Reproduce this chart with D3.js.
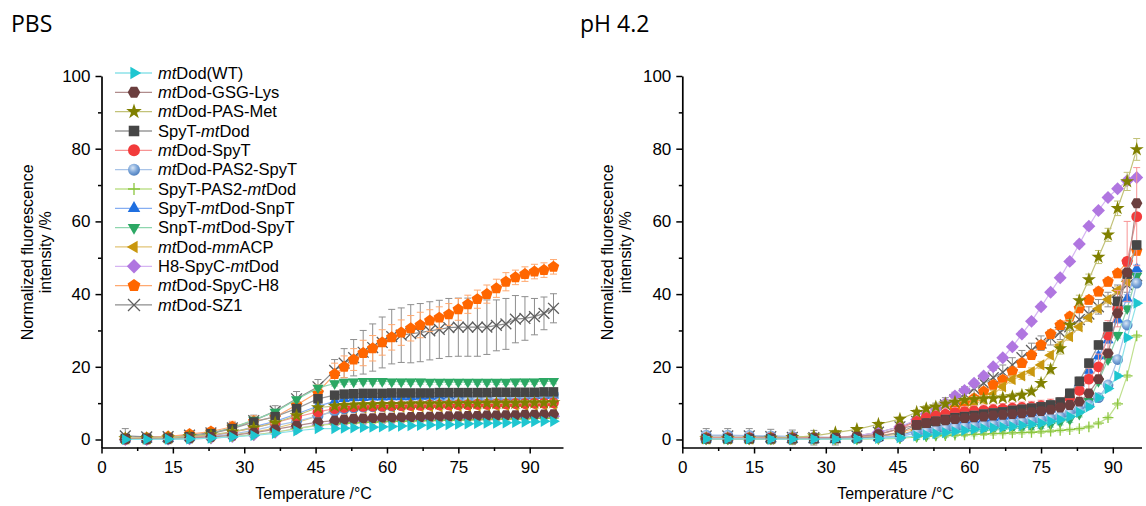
<!DOCTYPE html>
<html>
<head>
<meta charset="utf-8">
<script src="https://cdn.jsdelivr.net/npm/d3@7"></script>
<style>
  body { margin: 0; background: #fff; }
  text { font-family: "Liberation Sans", Arial, sans-serif; fill: #000; }
</style>
</head>
<body>
<div id="chart"></div>
<script>
// temperatures (°C) of the melt scan
const temps = [5, 9.5, 14, 18.5, 23, 27.5, 32, 36.5, 41, 45.5,
  49, 51, 53, 55, 57, 59, 61, 63, 65, 67, 69, 71, 73, 75, 77, 79, 81, 83, 85, 87, 89, 91, 93, 95];

const seriesNames = ['mtDod(WT)', 'mtDod-GSG-Lys', 'mtDod-PAS-Met', 'SpyT-mtDod', 'mtDod-SpyT',
  'mtDod-PAS2-SpyT', 'SpyT-PAS2-mtDod', 'SpyT-mtDod-SnpT', 'SnpT-mtDod-SpyT', 'mtDod-mmACP',
  'H8-SpyC-mtDod', 'mtDod-SpyC-H8', 'mtDod-SZ1'];

// PBS panel
const pbsWT = [0, 0, 0.1, 0.2, 0.4, 0.7, 1.1, 1.7, 2.4, 3.0,
  3.0, 3.1, 3.2, 3.3, 3.4, 3.5, 3.6, 3.7, 3.8, 3.9, 4.0, 4.0, 4.1, 4.2, 4.3, 4.4, 4.5, 4.5, 4.6, 4.7, 4.8, 4.9, 5.0, 5.0];
const pbsGSG = [0.1, 0.1, 0.2, 0.4, 0.7, 1.1, 1.9, 2.8, 3.8, 4.8,
  5.2, 5.5, 5.7, 5.8, 5.9, 6.0, 6.0, 6.1, 6.2, 6.2, 6.3, 6.3, 6.4, 6.4, 6.5, 6.5, 6.6, 6.6, 6.7, 6.7, 6.8, 6.8, 6.9, 7.0];
const pbsPASMet = [0.3, 0.3, 0.5, 0.8, 1.3, 2.1, 3.2, 4.6, 6.6, 8.8,
  9.2, 9.4, 9.5, 9.6, 9.6, 9.7, 9.7, 9.7, 9.8, 9.8, 9.8, 9.8, 9.9, 9.9, 9.9, 9.9, 10.0, 10.0, 10.0, 10.0, 10.1, 10.1, 10.1, 10.2];
const pbsSpyTDod = [0.3, 0.3, 0.4, 0.8, 1.6, 3.0, 4.8, 6.3, 8.5, 11.2,
  12.2, 12.5, 12.6, 12.7, 12.7, 12.7, 12.8, 12.8, 12.8, 12.8, 12.8, 12.9, 12.9, 12.9, 12.9, 12.9, 12.9, 13.0, 13.0, 13.0, 13.0, 13.0, 13.1, 13.1];
const pbsDodSpyT = [0.1, 0.1, 0.3, 0.6, 1.1, 2.0, 3.2, 4.6, 6.2, 7.6,
  8.5, 8.8, 9.0, 9.1, 9.2, 9.2, 9.3, 9.3, 9.4, 9.4, 9.5, 9.5, 9.5, 9.6, 9.6, 9.7, 9.7, 9.8, 9.8, 9.9, 9.9, 10.0, 10.0, 10.1];
const pbsPAS2SpyT = [0, 0, 0.1, 0.3, 0.8, 1.5, 2.5, 3.8, 5.0, 6.5,
  7.8, 8.4, 8.7, 8.9, 9.0, 9.1, 9.2, 9.3, 9.5, 9.6, 9.8, 10.0, 10.2, 10.4, 10.6, 10.8, 11.0, 11.2, 11.4, 11.6, 11.8, 12.0, 12.2, 12.4];
const pbsSpyTPAS2 = [0, 0, 0.1, 0.2, 0.4, 0.8, 1.3, 2.0, 3.0, 3.9,
  4.3, 4.5, 4.6, 4.7, 4.8, 4.9, 5.0, 5.0, 5.1, 5.2, 5.2, 5.3, 5.3, 5.4, 5.4, 5.5, 5.5, 5.6, 5.6, 5.7, 5.7, 5.8, 5.8, 5.9];
const pbsSnpT = [0.1, 0.1, 0.2, 0.5, 1.0, 2.0, 3.5, 5.0, 7.0, 9.2,
  10.5, 11.2, 11.4, 11.5, 11.6, 11.6, 11.7, 11.7, 11.7, 11.8, 11.8, 11.8, 11.8, 11.9, 11.9, 11.9, 11.9, 12.0, 12.0, 12.0, 12.0, 12.1, 12.1, 12.2];
const pbsSnpTSpyT = [0.3, 0.3, 0.4, 0.9, 1.6, 3.2, 5.4, 7.6, 11.0, 14.2,
  15.4, 15.8, 15.9, 16.0, 16.0, 16.0, 15.9, 15.9, 15.9, 15.9, 15.8, 15.8, 15.8, 15.8, 15.8, 15.8, 15.8, 15.8, 15.8, 15.9, 15.9, 15.9, 16.0, 16.0];
const pbsMmACP = [0.1, 0.1, 0.2, 0.4, 0.8, 1.3, 2.1, 3.1, 4.6, 6.5,
  7.8, 8.3, 8.5, 8.6, 8.7, 8.8, 8.8, 8.9, 8.9, 9.0, 9.0, 9.0, 9.1, 9.1, 9.1, 9.2, 9.2, 9.2, 9.3, 9.3, 9.3, 9.4, 9.4, 9.5];
const pbsH8 = [0, 0, 0.1, 0.2, 0.4, 0.8, 1.3, 2.0, 3.0, 4.0,
  4.5, 4.8, 5.0, 5.1, 5.2, 5.3, 5.4, 5.5, 5.5, 5.6, 5.7, 5.7, 5.8, 5.8, 5.9, 5.9, 6.0, 6.0, 6.1, 6.1, 6.2, 6.3, 6.3, 6.4];
const pbsSpyCH8 = [0.3, 0.5, 0.8, 1.5, 2.2, 3.5, 5.0, 6.2, 9.5, 13.0,
  18.0, 20.0, 22.0, 23.8, 25.1, 26.7, 28.1, 29.4, 30.6, 31.5, 32.7, 33.5, 34.4, 35.8, 37.2, 38.6, 40.0, 41.6, 43.4, 44.6, 45.5, 46.2, 46.6, 47.5];
const pbsSZ1 = [1.0, 0.7, 0.8, 1.2, 1.8, 3.2, 5.2, 7.8, 11.2, 14.5,
  19.0, 21.0, 22.5, 24.0, 25.3, 26.7, 28.3, 28.7, 29.1, 29.4, 29.9, 30.3, 30.8, 30.9, 30.9, 30.9, 30.9, 31.4, 31.8, 33.1, 33.3, 33.8, 34.7, 36.1];
const pbsSpyCH8Err = [0.5, 0.5, 0.5, 0.8, 1.0, 1.5, 1.5, 1.0, 1.5, 2.0,
  3.0, 3.0, 3.0, 3.5, 3.5, 3.5, 3.5, 3.5, 3.5, 3.5, 3.0, 3.0, 3.0, 3.0, 2.5, 2.5, 2.5, 2.5, 2.5, 2.0, 2.0, 2.0, 2.0, 2.0];
const pbsSZ1Err = [2.0, 1.0, 0.5, 0.8, 1.0, 1.5, 1.5, 1.5, 2.0, 2.0,
  3.0, 4.0, 5.0, 6.0, 6.5, 7.0, 7.5, 7.5, 8.0, 8.0, 8.0, 8.0, 8.0, 8.0, 8.0, 8.0, 7.5, 7.0, 7.0, 6.5, 6.0, 5.0, 4.5, 4.0];
const pbsErr = [0.3, 0.4, 0.6, 0.8, 0.6, 0.6, 0.4, 0.6, 0.7, 0.5, 0.4, pbsSpyCH8Err, pbsSZ1Err];

// pH 4.2 panel
const phWT = [0.2, 0.2, 0.2, 0.1, 0.1, 0.1, 0.1, 0.2, 0.3, 0.5,
  1.0, 1.3, 1.6, 1.9, 2.2, 2.5, 2.8, 3.0, 3.2, 3.4, 3.6, 3.9, 4.2, 4.5, 5.0, 5.5, 6.3, 7.5, 9.0, 11.5, 14.0, 17.5, 28.0, 37.5];
const phGSG = [0.3, 0.3, 0.3, 0.3, 0.3, 0.4, 0.5, 0.8, 1.5, 3.0,
  4.0, 4.5, 5.0, 5.3, 5.6, 5.9, 6.1, 6.3, 6.6, 6.8, 7.0, 7.2, 7.5, 7.8, 8.2, 8.8, 9.5, 10.4, 12.7, 16.6, 23.7, 34.7, 46.0, 65.0];
const phPASMet = [0.3, 0.3, 0.3, 0.4, 0.6, 1.0, 1.9, 2.8, 4.2, 5.6,
  7.5, 8.5, 9.0, 9.8, 10.3, 10.8, 11.0, 11.2, 11.3, 11.5, 11.8, 12.2, 13.2, 15.5, 19.3, 25.0, 31.5, 38.2, 44.0, 50.2, 56.3, 63.6, 71.0, 79.8];
const phSpyTDod = [0.2, 0.2, 0.2, 0.2, 0.2, 0.2, 0.3, 0.4, 0.8, 2.0,
  4.0, 4.5, 5.0, 5.5, 6.0, 6.3, 6.6, 7.0, 7.3, 7.6, 8.0, 8.3, 8.6, 9.0, 9.5, 10.3, 12.7, 16.0, 21.0, 26.0, 31.0, 38.0, 45.5, 53.5];
const phDodSpyT = [0.5, 0.5, 0.5, 0.5, 0.5, 0.5, 0.6, 0.8, 1.3, 3.0,
  5.0, 6.0, 6.5, 7.0, 7.3, 7.6, 7.8, 8.0, 8.2, 8.4, 8.6, 8.8, 9.0, 9.3, 9.6, 10.0, 11.5, 13.5, 16.6, 20.0, 28.7, 36.0, 49.0, 61.3];
const phPAS2SpyT = [1.2, 1.2, 1.1, 1.0, 0.9, 0.7, 0.5, 0.5, 0.6, 0.8,
  1.8, 2.2, 2.6, 3.0, 3.3, 3.5, 3.7, 3.9, 4.1, 4.3, 4.6, 4.9, 5.2, 5.5, 5.8, 6.3, 7.2, 8.2, 9.5, 11.5, 15.0, 22.0, 31.5, 43.0];
const phSpyTPAS2 = [0, 0, 0, 0, 0, 0, 0, 0.1, 0.2, 0.3,
  0.7, 0.9, 1.0, 1.1, 1.2, 1.3, 1.4, 1.5, 1.6, 1.7, 1.8, 1.9, 2.0, 2.1, 2.3, 2.5, 2.7, 3.0, 3.5, 4.5, 6.0, 9.8, 17.5, 28.5];
const phSnpT = [0.1, 0.1, 0.1, 0.1, 0.1, 0.1, 0.2, 0.3, 0.5, 1.0,
  2.5, 3.0, 3.5, 4.0, 4.5, 5.0, 5.3, 5.6, 6.0, 6.3, 6.6, 7.0, 7.3, 7.8, 8.3, 9.5, 12.0, 15.5, 19.0, 23.0, 27.4, 33.0, 38.8, 47.0];
const phSnpTSpyT = [0.2, 0.2, 0.2, 0.2, 0.2, 0.2, 0.2, 0.2, 0.3, 0.5,
  0.8, 1.0, 1.3, 1.5, 1.7, 2.0, 2.2, 2.4, 2.6, 2.8, 3.0, 3.2, 3.5, 3.8, 4.2, 4.8, 5.5, 7.0, 10.5, 16.0, 22.0, 28.7, 36.0, 45.0];
const phMmACP = [0.1, 0.1, 0.1, 0.1, 0.1, 0.2, 0.3, 0.5, 0.9, 1.5,
  2.5, 3.3, 4.3, 5.5, 6.8, 8.0, 9.5, 11.0, 12.5, 14.5, 16.5, 17.5, 18.7, 20.5, 23.2, 26.0, 28.3, 31.0, 33.5, 36.0, 38.5, 41.0, 43.5, 45.5];
const phH8 = [0.2, 0.2, 0.2, 0.2, 0.2, 0.3, 0.5, 1.0, 2.0, 3.5,
  5.5, 7.0, 8.5, 10.0, 12.0, 13.5, 15.5, 17.5, 20.0, 22.5, 25.5, 29.0, 32.5, 36.5, 40.5, 44.5, 49.0, 53.8, 58.7, 63.0, 66.6, 69.0, 71.2, 72.1];
const phSpyCH8 = [0.2, 0.2, 0.2, 0.2, 0.2, 0.3, 0.4, 0.6, 1.0, 2.0,
  3.2, 4.0, 5.4, 6.7, 8.6, 10.0, 11.3, 13.2, 15.0, 16.4, 18.7, 21.0, 23.2, 26.0, 29.0, 31.5, 33.8, 36.1, 38.4, 40.7, 43.4, 45.7, 48.9, 51.9];
const phSZ1 = [1.0, 1.0, 1.0, 0.8, 0.6, 0.5, 0.5, 1.0, 2.0, 3.5,
  5.0, 6.5, 8.0, 9.5, 11.0, 12.5, 14.0, 15.5, 17.0, 18.5, 20.5, 22.5, 24.5, 26.5, 28.0, 29.5, 31.0, 33.0, 34.5, 36.5, 38.5, 40.5, 42.5, 45.0];
const phPASMetErr = [0.3, 0.3, 0.3, 0.3, 0.3, 0.4, 0.5, 0.5, 0.6, 0.6,
  0.7, 0.8, 0.8, 0.8, 0.8, 0.8, 0.8, 0.8, 0.8, 0.8, 0.8, 0.8, 0.9, 1.0, 1.2, 1.5, 1.5, 1.5, 1.5, 1.8, 1.8, 2.0, 2.5, 3.0];
const phDodSpyTErr = [0.5, 0.5, 0.5, 0.5, 0.5, 0.5, 0.5, 0.5, 0.6, 1.0,
  1.2, 1.5, 1.5, 1.5, 1.5, 1.5, 1.5, 1.5, 1.5, 1.5, 1.5, 1.5, 1.5, 1.5, 1.5, 1.5, 2.0, 2.5, 3.0, 3.5, 4.0, 5.0, 11.0, 13.5];
const phErr = [0.6, 0.8, phPASMetErr, 1.2, phDodSpyTErr, 0.8, 0.4, 1.0, 0.8, 1.0, 0.8, 1.2, 2.0];

// styling per series (legend order)
const markerColors = ['#1FC6D0', '#6B3E3E', '#808000', '#464646', '#F23B3B', '#6A9AD2', '#8CC63F',
  '#1F6FE0', '#2CA864', '#C9970E', '#B076E0', '#FF6600', '#5E5E5E'];
const lineColors = ['#8CE2E8', '#B08C8C', '#C2C278', '#9A9A9A', '#F79494', '#A9C4E8', '#BFE08E',
  '#86AEF2', '#8ED6AE', '#E2C477', '#D5B4F2', '#FFA970', '#8E8E8E'];
const shapes = ['triR', 'hex', 'star', 'square', 'circle', 'sphere', 'plus', 'triU', 'triD', 'triL',
  'diamond', 'pent', 'cross'];

const W = 1146, H = 506;
const svg = d3.select('#chart').append('svg').attr('width', W).attr('height', H);

const defs = svg.append('defs');
const grad = defs.append('radialGradient').attr('id', 'sphere')
  .attr('cx', '40%').attr('cy', '35%').attr('r', '65%');
grad.append('stop').attr('offset', '0%').attr('stop-color', '#D9E6F5');
grad.append('stop').attr('offset', '55%').attr('stop-color', '#7FA8DA');
grad.append('stop').attr('offset', '100%').attr('stop-color', '#4F80BF');

function poly(n, r, rot) {
  const pts = d3.range(n).map(k => {
    const a = rot + (k * 2 * Math.PI) / n;
    return [r * Math.cos(a), r * Math.sin(a)];
  });
  return 'M' + pts.map(p => p[0].toFixed(2) + ',' + p[1].toFixed(2)).join('L') + 'Z';
}

function markerPath(shape, s) {
  switch (shape) {
    case 'triU': return poly(3, s * 1.2, -Math.PI / 2);
    case 'triD': return poly(3, s * 1.2, Math.PI / 2);
    case 'triR': return poly(3, s * 1.2, 0);
    case 'triL': return poly(3, s * 1.2, Math.PI);
    case 'hex': return poly(6, s * 1.05, 0);
    case 'pent': return poly(5, s * 1.12, -Math.PI / 2);
    case 'diamond': return poly(4, s * 1.2, -Math.PI / 2);
    case 'square': return `M${-s * 0.88},${-s * 0.88}h${s * 1.76}v${s * 1.76}h${-s * 1.76}Z`;
    case 'star': return d3.symbol().type(d3.symbolStar).size(s * s * 2.1)();
    case 'plus': return `M${-s},0H${s}M0,${-s}V${s}`;
    case 'cross': return `M${-s},${-s}L${s},${s}M${s},${-s}L${-s},${s}`;
    default: return d3.symbol().type(d3.symbolCircle).size(Math.PI * s * s)();
  }
}

function styleMarker(sel, i) {
  const shape = shapes[i];
  if (shape === 'plus' || shape === 'cross') {
    sel.attr('fill', 'none').attr('stroke', markerColors[i]).attr('stroke-width', 1.3);
  } else if (shape === 'sphere') {
    sel.attr('fill', 'url(#sphere)').attr('stroke', 'none');
  } else {
    sel.attr('fill', markerColors[i]).attr('stroke', 'none');
  }
}

function addLabel(sel, label) {
  label.split(/(mt|mm)/).filter(p => p.length).forEach(p => {
    sel.append('tspan')
      .attr('font-style', p === 'mt' || p === 'mm' ? 'italic' : null)
      .text(p);
  });
}

const y = d3.scaleLinear().domain([-2.2, 100]).range([447.5, 76]);

const panels = [
  { title: 'PBS', titleX: 11, x0: 101.5, x1: 563, xMax: 97, data: [pbsWT, pbsGSG, pbsPASMet, pbsSpyTDod, pbsDodSpyT,
    pbsPAS2SpyT, pbsSpyTPAS2, pbsSnpT, pbsSnpTSpyT, pbsMmACP, pbsH8, pbsSpyCH8, pbsSZ1], err: pbsErr, legend: true },
  { title: 'pH 4.2', titleX: 580, x0: 682.3, x1: 1141.5, xMax: 96, data: [phWT, phGSG, phPASMet, phSpyTDod, phDodSpyT,
    phPAS2SpyT, phSpyTPAS2, phSnpT, phSnpTSpyT, phMmACP, phH8, phSpyCH8, phSZ1], err: phErr, legend: false }
];

const ms = 5.4; // marker half size

panels.forEach(p => {
  const x = d3.scaleLinear().domain([0, p.xMax]).range([p.x0, p.x1]);
  const g = svg.append('g');

  // Title
  g.append('text')
    .attr('x', p.titleX).attr('y', 31.5)
    .style('font-family', '"Open Sans", "Liberation Sans", sans-serif')
    .style('font-size', '23px')
    .text(p.title);

  // Axes
  g.append('g').attr('transform', `translate(0,${y(-2.2)})`)
    .call(d3.axisBottom(x).tickValues([0, 15, 30, 45, 60, 75, 90]).tickSize(6).tickSizeOuter(0).tickPadding(7));
  g.append('g').attr('transform', `translate(0,${y(-2.2)})`)
    .call(d3.axisBottom(x).tickValues([7.5, 22.5, 37.5, 52.5, 67.5, 82.5]).tickSize(3.5).tickSizeOuter(0).tickFormat(''))
    .select('.domain').remove();
  g.append('g').attr('transform', `translate(${p.x0},0)`)
    .call(d3.axisLeft(y).tickValues([0, 20, 40, 60, 80, 100]).tickSize(6).tickSizeOuter(0).tickPadding(5));
  g.append('g').attr('transform', `translate(${p.x0},0)`)
    .call(d3.axisLeft(y).tickValues([10, 30, 50, 70, 90]).tickSize(3.5).tickSizeOuter(0).tickFormat(''))
    .select('.domain').remove();
  g.selectAll('.domain').attr('stroke', '#000').attr('stroke-width', 1.7);
  g.selectAll('.tick line').attr('stroke', '#000').attr('stroke-width', 1.5);
  g.selectAll('.tick text').style('font-size', '17px').style('font-family', '"Liberation Sans", Arial, sans-serif').attr('fill', '#000');

  // Axis titles
  g.append('text')
    .attr('x', x(45) - 2).attr('y', 499)
    .attr('text-anchor', 'middle')
    .style('font-size', '16px')
    .text('Temperature /°C');
  const yt = g.append('g').attr('transform', `translate(${p.x0 - 74.5},${y(51.5)}) rotate(-90)`);
  yt.append('text').attr('text-anchor', 'middle').attr('dy', '0.35em').style('font-size', '16px')
    .text('Normalized fluorescence');
  yt.append('text').attr('text-anchor', 'middle').attr('y', 18).attr('dy', '0.35em').style('font-size', '16px')
    .text('intensity /%');

  // Series, last legend entry drawn first
  const line = d3.line().x((d, k) => x(temps[k])).y(d => y(d));
  d3.range(p.data.length).reverse().forEach(i => {
    const vals = p.data[i];
    const e = p.err[i];
    const errAt = k => (Array.isArray(e) ? e[k] : e);
    const sg = g.append('g');
    sg.append('path').attr('d', line(vals))
      .attr('fill', 'none').attr('stroke', lineColors[i]).attr('stroke-width', 1.2);
    const eb = sg.append('g').attr('stroke', lineColors[i]).attr('stroke-width', 1).attr('fill', 'none');
    vals.forEach((v, k) => {
      const cx = x(temps[k]);
      const hi = y(v + errAt(k)), lo = y(v - errAt(k));
      eb.append('path').attr('d', `M${cx},${hi}V${lo}M${cx - 3.5},${hi}H${cx + 3.5}M${cx - 3.5},${lo}H${cx + 3.5}`);
    });
    sg.selectAll('path.mk').data(vals).enter().append('path')
      .attr('class', 'mk')
      .attr('d', markerPath(shapes[i], ms))
      .attr('transform', (d, k) => `translate(${x(temps[k])},${y(d)})`)
      .call(styleMarker, i);
  });

  // Legend
  if (p.legend) {
    const lg = g.append('g');
    seriesNames.forEach((name, i) => {
      const cy = 73 + i * 19.33;
      lg.append('line').attr('x1', 115).attr('x2', 152).attr('y1', cy).attr('y2', cy)
        .attr('stroke', lineColors[i]).attr('stroke-width', 1.3);
      lg.append('path').attr('d', markerPath(shapes[i], 6))
        .attr('transform', `translate(134,${cy})`)
        .call(styleMarker, i);
      const t = lg.append('text').attr('x', 158).attr('y', cy).attr('dy', '0.35em').style('font-size', '16.5px');
      addLabel(t, name);
    });
  }
});
</script>
</body>
</html>
